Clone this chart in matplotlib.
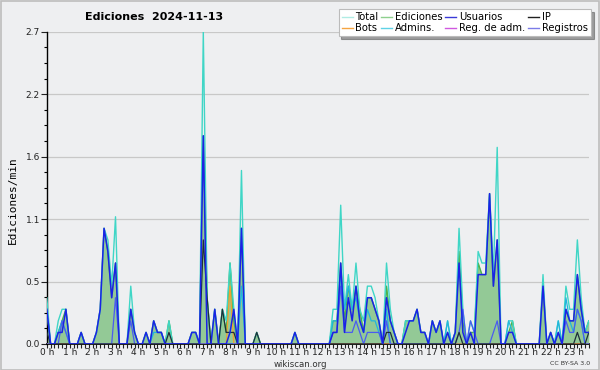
import matplotlib
matplotlib.use('Agg')
import matplotlib.pyplot as plt
from matplotlib.lines import Line2D
from matplotlib.patches import Rectangle
import numpy as np

# values in edits/min for each 10-minute slot (6 per hour), last hour ends at 23:40
total = [0.4, 0, 0, 0.2, 0.3, 0.3,   0, 0, 0, 0.1, 0, 0,   0, 0.1, 0.3, 1.0, 0.9, 0.5,
         1.1, 0, 0, 0, 0.5, 0.1,     0, 0, 0.1, 0, 0.2, 0.1,   0.1, 0, 0.2, 0, 0, 0,
         0, 0, 0.1, 0.1, 0, 2.7,     0.4, 0, 0.3, 0, 0.3, 0.2,  0.7, 0.3, 0, 1.5, 0, 0,
         0, 0.1, 0, 0, 0, 0,         0, 0, 0, 0, 0, 0.1,     0, 0, 0, 0, 0, 0,
         0, 0, 0, 0.3, 0.3, 1.2,     0.3, 0.6, 0.3, 0.7, 0.3, 0.2,  0.5, 0.5, 0.4, 0.2, 0, 0.7,
         0.3, 0.1, 0, 0, 0.2, 0.2,   0.2, 0.3, 0.1, 0.1, 0, 0.2,  0.1, 0.2, 0, 0.2, 0, 0.1,
         1.0, 0.3, 0, 0.2, 0.1, 0.8,  0.7, 0.7, 1.3, 0.6, 1.7, 0,  0, 0.2, 0.2, 0, 0, 0,
         0, 0, 0, 0, 0.6, 0,         0.1, 0, 0.2, 0, 0.5, 0.3,   0.3, 0.9, 0.4, 0.1, 0.2]
ediciones = [0.3, 0, 0, 0.1, 0.2, 0.3,   0, 0, 0, 0.1, 0, 0,   0, 0.1, 0.3, 1.0, 0.8, 0.4,
             0.7, 0, 0, 0, 0.3, 0.1,     0, 0, 0.1, 0, 0.2, 0.1,   0.1, 0, 0.2, 0, 0, 0,
             0, 0, 0.1, 0.1, 0, 1.8,     0.4, 0, 0.3, 0, 0.3, 0.1,  0.7, 0.2, 0, 1.0, 0, 0,
             0, 0.1, 0, 0, 0, 0,         0, 0, 0, 0, 0, 0.1,     0, 0, 0, 0, 0, 0,
             0, 0, 0, 0.2, 0.2, 0.7,     0.2, 0.5, 0.3, 0.5, 0.3, 0.1,  0.4, 0.4, 0.3, 0.2, 0, 0.5,
             0.2, 0.1, 0, 0, 0.2, 0.2,   0.2, 0.3, 0.1, 0.1, 0, 0.2,  0.1, 0.2, 0, 0.1, 0, 0.1,
             0.8, 0.2, 0, 0.1, 0.1, 0.7,  0.6, 0.6, 1.3, 0.5, 0.9, 0,  0, 0.1, 0.2, 0, 0, 0,
             0, 0, 0, 0, 0.5, 0,         0.1, 0, 0.1, 0, 0.3, 0.2,   0.2, 0.6, 0.3, 0.1, 0.2]
usuarios = [0.3, 0, 0, 0.1, 0.1, 0.3,   0, 0, 0, 0.1, 0, 0,   0, 0.1, 0.3, 1.0, 0.8, 0.4,
            0.7, 0, 0, 0, 0.3, 0.1,     0, 0, 0.1, 0, 0.2, 0.1,   0.1, 0, 0, 0, 0, 0,
            0, 0, 0.1, 0.1, 0, 1.8,     0, 0, 0.3, 0, 0, 0,      0.1, 0.3, 0, 1.0, 0, 0,
            0, 0, 0, 0, 0, 0,           0, 0, 0, 0, 0, 0.1,     0, 0, 0, 0, 0, 0,
            0, 0, 0, 0.1, 0.1, 0.7,     0.1, 0.4, 0.2, 0.5, 0.2, 0.1,  0.4, 0.4, 0.3, 0.2, 0, 0.4,
            0.2, 0.1, 0, 0, 0.1, 0.2,   0.2, 0.3, 0.1, 0.1, 0, 0.2,  0.1, 0.2, 0, 0.1, 0, 0.1,
            0.7, 0.1, 0, 0.1, 0, 0.6,   0.6, 0.6, 1.3, 0.5, 0.9, 0,  0, 0.1, 0.1, 0, 0, 0,
            0, 0, 0, 0, 0.5, 0,         0.1, 0, 0.1, 0, 0.3, 0.2,   0.2, 0.6, 0.3, 0.1, 0.1]
ip = [0.1, 0, 0, 0, 0, 0,   0, 0, 0, 0, 0, 0,   0, 0, 0, 0, 0, 0,
      0, 0, 0, 0, 0, 0,     0, 0, 0, 0, 0, 0,   0, 0, 0.1, 0, 0, 0,
      0, 0, 0, 0, 0, 0.9,   0.4, 0, 0, 0, 0.3, 0.1,   0.1, 0.1, 0, 0, 0, 0,
      0, 0.1, 0, 0, 0, 0,   0, 0, 0, 0, 0, 0,   0, 0, 0, 0, 0, 0,
      0, 0, 0, 0, 0, 0,     0, 0, 0, 0, 0, 0,   0, 0, 0, 0, 0, 0.1,
      0.1, 0, 0, 0, 0, 0,   0, 0, 0, 0, 0, 0,   0, 0, 0, 0, 0, 0,
      0.1, 0, 0, 0, 0, 0,   0, 0, 0, 0, 0, 0,   0, 0, 0, 0, 0, 0,
      0, 0, 0, 0, 0, 0,     0, 0, 0, 0, 0, 0,   0, 0.1, 0, 0, 0.1]
registros = [0, 0, 0, 0, 0.2, 0.1,   0, 0, 0, 0, 0, 0,   0, 0, 0, 0, 0, 0,
             0.4, 0, 0, 0, 0.2, 0,   0, 0, 0, 0, 0, 0,   0, 0, 0, 0, 0, 0,
             0, 0, 0, 0, 0, 0,       0, 0, 0, 0, 0, 0,   0, 0, 0, 0, 0, 0,
             0, 0, 0, 0, 0, 0,       0, 0, 0, 0, 0, 0,   0, 0, 0, 0, 0, 0,
             0, 0, 0, 0.1, 0.1, 0.5,  0.1, 0.1, 0.1, 0.2, 0.1, 0,  0.1, 0.1, 0.1, 0.1, 0, 0.2,
             0, 0, 0, 0, 0, 0,       0, 0, 0, 0, 0, 0,   0, 0, 0, 0, 0, 0,
             0.1, 0.3, 0, 0.2, 0.1, 0,  0, 0, 0, 0.1, 0.2, 0,  0, 0, 0, 0, 0, 0,
             0, 0, 0, 0, 0, 0,       0, 0, 0, 0, 0.2, 0.1,   0.1, 0.3, 0.2, 0, 0]
admins = [0.3, 0, 0, 0.1, 0.2, 0.1,   0, 0, 0, 0, 0, 0,   0, 0, 0, 0, 0, 0,
          0, 0, 0, 0, 0, 0,           0, 0, 0, 0, 0.1, 0.1,   0.1, 0, 0, 0, 0, 0,
          0, 0, 0, 0, 0, 0,           0, 0, 0, 0, 0, 0,   0, 0, 0, 0.5, 0, 0,
          0, 0, 0, 0, 0, 0,           0, 0, 0, 0, 0, 0,   0, 0, 0, 0, 0, 0,
          0, 0, 0, 0.2, 0.2, 0.6,     0.3, 0.5, 0.3, 0.4, 0.2, 0.1,  0.3, 0.2, 0.2, 0.1, 0, 0.3,
          0, 0, 0, 0, 0, 0,           0, 0, 0, 0, 0, 0,   0, 0, 0, 0.2, 0, 0,
          0, 0, 0, 0, 0, 0,           0, 0, 0, 0, 0, 0,   0, 0.2, 0.1, 0, 0, 0,
          0, 0, 0, 0, 0, 0,           0, 0, 0.2, 0, 0.4, 0.2,   0.1, 0.3, 0.2, 0, 0]
bots = [0] * 48 + [0.5] + [0] * 94
reg_adm = [0] * 143

hour_labels = ['%d h' % h for h in range(24)]
ytick_vals = [0, 0.54, 1.08, 1.62, 2.16, 2.7]
ytick_labels = ['0.0', '0.5', '1.1', '1.6', '2.2', '2.7']

bg = '#eeeff1'
c_total = '#3fd6c6'
c_ed_fill = '#93c996'
c_ed_line = '#4cb34c'
c_usu = '#1a22e6'
c_ip = '#1e2e3a'
c_reg = '#4a5cf0'
c_adm = '#22b6dc'
c_bots = '#f0a030'
c_regadm = '#d050e0'

x = np.arange(len(total))

fig = plt.figure(figsize=(6, 3.7), dpi=100, facecolor=bg)
ax = fig.add_axes([0.078, 0.0703, 0.904, 0.844], facecolor=bg)

ax.fill_between(x, ediciones, 0, color=c_ed_fill, lw=0, zorder=2)
ax.plot(x, ediciones, color=c_ed_line, lw=1.0, zorder=3)
ax.plot(x, total, color=c_total, lw=1.0, zorder=4)
ax.plot(x, admins, color=c_adm, lw=0.9, zorder=5)
ax.plot(x, bots, color=c_bots, lw=0.9, zorder=5)
ax.plot(x, reg_adm, color=c_regadm, lw=0.9, zorder=5)
ax.plot(x, registros, color=c_reg, lw=0.9, zorder=6)
ax.plot(x, ip, color=c_ip, lw=0.9, zorder=7)
ax.plot(x, usuarios, color=c_usu, lw=1.1, zorder=8)

ax.set_xlim(0, len(total) - 1 + 0.1)
ax.set_ylim(0, 2.7)
ax.set_xticks(np.arange(0, 139, 6))
ax.set_xticklabels(hour_labels)
ax.set_xticks(np.arange(0, 143, 1), minor=True)
ax.set_yticks(ytick_vals)
ax.set_yticklabels(ytick_labels)
ax.set_yticks(np.arange(0, 2.71, 0.135), minor=True)
ax.tick_params(axis='x', which='both', length=3, width=0.8, pad=0, labelsize=6.5, colors='#222222')
ax.tick_params(axis='y', which='major', length=4, width=0.8, pad=1, labelsize=6.5, colors='#222222')
ax.tick_params(axis='y', which='minor', length=2, width=0.8)
ax.grid(axis='y', which='major', color='#c8c8c8', lw=0.9, zorder=0)
ax.set_axisbelow(True)
for s in ['top', 'right']:
    ax.spines[s].set_visible(False)
ax.spines['left'].set_linewidth(1.0)
ax.spines['bottom'].set_linewidth(1.2)

fig.text(0.142, 0.955, 'Ediciones  2024-11-13', fontsize=8, fontweight='bold', va='center', ha='left')
fig.text(0.022, 0.46, 'Ediciones/min', rotation=90, fontsize=8, family='DejaVu Sans Mono', va='center', ha='center')
fig.text(0.5, 0.014, 'wikiscan.org', fontsize=6.2, ha='center', va='center', color='#333333')
fig.text(0.983, 0.017, 'CC BY-SA 3.0', fontsize=4.5, ha='right', va='center', color='#333333')

handles = [Line2D([], [], color='#b0ece4', lw=1), Line2D([], [], color='#f5a442', lw=1),
           Line2D([], [], color='#8ed08e', lw=1), Line2D([], [], color='#5fd2e6', lw=1),
           Line2D([], [], color='#3a3ad8', lw=1), Line2D([], [], color='#d058e0', lw=1),
           Line2D([], [], color='#202020', lw=1), Line2D([], [], color='#7c7ce8', lw=1)]
labels = ['Total', 'Bots', 'Ediciones', 'Admins.', 'Usuarios', 'Reg. de adm.', 'IP', 'Registros']
leg = fig.legend(handles, labels, ncol=4, loc='upper right', bbox_to_anchor=(0.985, 0.975),
                 fontsize=7.2, frameon=True, fancybox=False, shadow=True, handlelength=1.1,
                 handletextpad=0.3, columnspacing=0.25, labelspacing=0.1, borderpad=0.3,
                 borderaxespad=0)
leg.get_frame().set_edgecolor('#bbbbbb')
leg.get_frame().set_linewidth(0.8)

fig.patches.append(Rectangle((0.001, 0.001), 0.997, 0.996, transform=fig.transFigure,
                             fill=False, edgecolor='#bdbdbd', lw=1.2))

fig.savefig('out.png', dpi=100, facecolor=bg)
